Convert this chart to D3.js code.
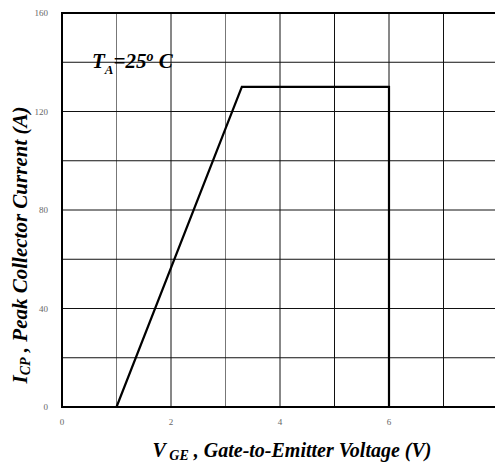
<!DOCTYPE html>
<html><head><meta charset="utf-8">
<script src="https://cdn.jsdelivr.net/npm/d3@7"></script>
<style>body{margin:0;background:#fff}svg{display:block}</style>
</head><body><svg id="c" width="495" height="462"></svg>
<script>
const curveX = [1, 3.3, 6, 6];
const curveY = [0, 130, 130, 0];
const xTicks = [0, 2, 4, 6];
const yTicks = [0, 40, 80, 120, 160];
const xGrid = [1, 2, 3, 4, 5, 6, 7];
const yGrid = [20, 40, 60, 80, 100, 120, 140];
const grayGrid = [1, 3];

const svg = d3.select("#c");
const x = d3.scaleLinear().domain([0, 8]).range([62, 498]);
const y = d3.scaleLinear().domain([0, 160]).range([407, 13]);
const serif = "'Liberation Serif','Times New Roman',serif";

// grid
svg.append("g").selectAll("line").data(xGrid).join("line")
  .attr("x1", d => x(d)).attr("x2", d => x(d)).attr("y1", y(0)).attr("y2", y(160))
  .attr("stroke", d => grayGrid.includes(d) ? "#777" : "#111").attr("stroke-width", 1);
svg.append("g").selectAll("line").data(yGrid).join("line")
  .attr("x1", x(0)).attr("x2", x(8)).attr("y1", d => y(d)).attr("y2", d => y(d))
  .attr("stroke", "#111").attr("stroke-width", 1);

// frame
svg.append("path").attr("d", `M${x(8)},${y(160)}H${x(0)}V${y(0)}H${x(8)}`)
  .attr("fill", "none").attr("stroke", "#000").attr("stroke-width", 2);

// curve
const line = d3.line().x(d => x(d[0])).y(d => y(d[1]));
svg.append("path").datum(curveX.map((v, i) => [v, curveY[i]]))
  .attr("d", line).attr("fill", "none").attr("stroke", "#000").attr("stroke-width", 2.2);

// tick labels
svg.append("g").selectAll("text").data(yTicks).join("text")
  .attr("x", 48).attr("y", d => y(d) + 3).attr("text-anchor", "end")
  .attr("font-family", serif).attr("font-size", 9).attr("fill", "#666").text(d => d);
svg.append("g").selectAll("text").data(xTicks).join("text")
  .attr("x", d => x(d)).attr("y", 425).attr("text-anchor", "middle")
  .attr("font-family", serif).attr("font-size", 9).attr("fill", "#666").text(d => d);

// x title
const xt = svg.append("text").attr("x", 292).attr("y", 457).attr("text-anchor", "middle")
  .attr("font-family", serif).attr("font-size", 20).attr("font-weight", "bold").attr("font-style", "italic");
xt.append("tspan").text("V");
xt.append("tspan").attr("font-size", 14).attr("dy", 3).text(" GE");
xt.append("tspan").attr("dy", -3).text(" , Gate-to-Emitter Voltage (V)");

// y title
const yt = svg.append("text").attr("transform", "translate(27,245) rotate(-90)").attr("text-anchor", "middle")
  .attr("font-family", serif).attr("font-size", 21).attr("font-weight", "bold").attr("font-style", "italic");
yt.append("tspan").text("I");
yt.append("tspan").attr("font-size", 14).attr("dy", 3).text("CP");
yt.append("tspan").attr("dy", -3).text(" , Peak Collector Current (A)");

// annotation
const an = svg.append("text").attr("x", 92).attr("y", 68)
  .attr("font-family", serif).attr("font-size", 21).attr("font-weight", "bold").attr("font-style", "italic");
an.append("tspan").text("T");
an.append("tspan").attr("font-size", 13).attr("dy", 6).text("A");
an.append("tspan").attr("dy", -6).text("=25");
an.append("tspan").attr("font-size", 14).attr("dy", -7).text("o");
an.append("tspan").attr("dy", 7).text(" C");
</script></body></html>
